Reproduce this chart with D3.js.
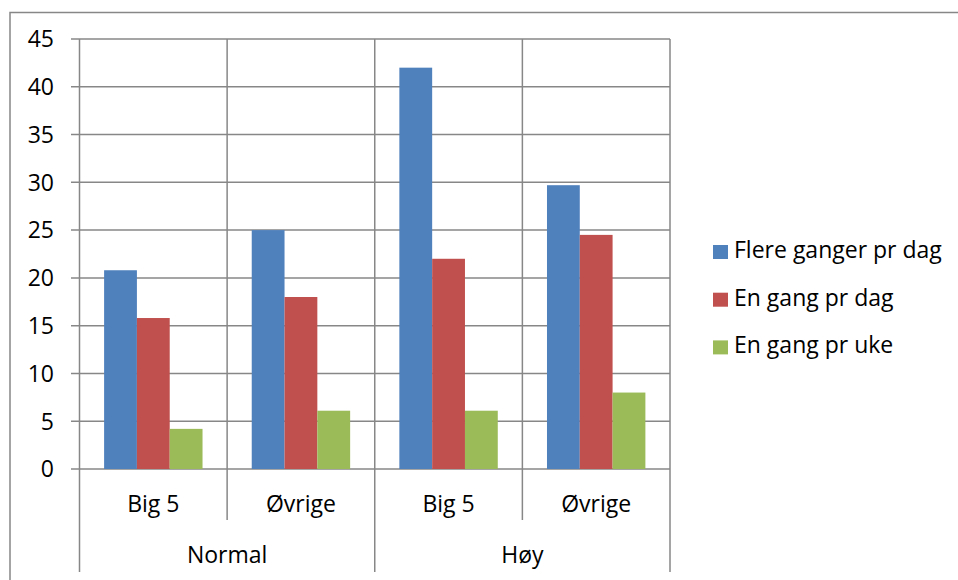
<!DOCTYPE html>
<html><head><meta charset="utf-8">
<script src="https://cdn.jsdelivr.net/npm/d3@7/dist/d3.min.js"></script>
<style>body{margin:0;background:#fff}svg{display:block}text{font-family:"Open Sans",sans-serif;fill:#000}</style>
</head><body><svg id="c" width="958" height="580"></svg>
<script>
const groups = ["Normal", "Høy"];
const subs = ["Big 5", "Øvrige"];
const categories = ["Normal|Big 5", "Normal|Øvrige", "Høy|Big 5", "Høy|Øvrige"];
const seriesNames = ["Flere ganger pr dag", "En gang pr dag", "En gang pr uke"];
const flereGangerPrDag = [20.8, 25.0, 42.0, 29.7];
const enGangPrDag = [15.8, 18.0, 22.0, 24.5];
const enGangPrUke = [4.2, 6.1, 6.1, 8.0];
const yTicks = [0, 5, 10, 15, 20, 25, 30, 35, 40, 45];
const colors = ["#4F81BD", "#C0504D", "#9BBB59"];

const seriesValues = [flereGangerPrDag, enGangPrDag, enGangPrUke];
const svg = d3.select("#c");
const grid = "#878787";
const L = 79.5, R = 670, T = 39, B = 469;
const fs = 23;

// outer frame
svg.append("path").attr("d", `M10,600 L10,12.5 L970,12.5`).attr("fill", "none").attr("stroke", grid).attr("stroke-width", 1.5);

const y = d3.scaleLinear().domain([0, 45]).range([B, T]);
const x0 = d3.scaleBand().domain(categories).range([L, R]).padding(0);
const x1 = d3.scaleBand().domain(seriesNames).range([0, x0.bandwidth()]).paddingInner(0).paddingOuter(0.75);
const xg = d3.scaleBand().domain(groups).range([L, R]).padding(0);

// horizontal gridlines
svg.append("g").selectAll("line").data(yTicks).join("line")
  .attr("x1", 71).attr("x2", R).attr("y1", d => y(d)).attr("y2", d => y(d))
  .attr("stroke", grid).attr("stroke-width", 1.5);

// bars
categories.forEach((c, i) => {
  svg.append("g").selectAll("rect").data(seriesNames).join("rect")
    .attr("x", s => x0(c) + x1(s))
    .attr("width", x1.bandwidth())
    .attr("y", (s, k) => y(seriesValues[k][i]))
    .attr("height", (s, k) => y(0) - y(seriesValues[k][i]))
    .attr("fill", (s, k) => colors[k]);
});

// vertical lines: category boundaries
const bounds = categories.map(c => x0(c)).concat([R]);
svg.append("g").selectAll("line").data(bounds).join("line")
  .attr("x1", d => d).attr("x2", d => d)
  .attr("y1", T).attr("y2", (d, i) => (i % 2 === 0) ? 572 : 520)
  .attr("stroke", grid).attr("stroke-width", 1.5);

// y axis labels
svg.append("g").selectAll("text").data(yTicks).join("text")
  .attr("x", 54).attr("y", d => y(d)).attr("dy", "0.36em")
  .attr("text-anchor", "end").attr("font-size", fs).text(d => d);

// sub-category labels
svg.append("g").selectAll("text").data(categories).join("text")
  .attr("x", c => x0(c) + x0.bandwidth() / 2).attr("y", 512)
  .attr("text-anchor", "middle").attr("font-size", fs).text(c => c.split("|")[1]);

// group labels
svg.append("g").selectAll("text").data(groups).join("text")
  .attr("x", g => xg(g) + xg.bandwidth() / 2).attr("y", 563)
  .attr("text-anchor", "middle").attr("font-size", fs).text(g => g);

// legend
const lg = svg.append("g").selectAll("g").data(seriesNames).join("g")
  .attr("transform", (d, i) => `translate(713,${245 + i * 47.7})`);
lg.append("rect").attr("width", 15).attr("height", 14).attr("fill", (d, i) => colors[i]);
lg.append("text").attr("x", 21).attr("y", 13).attr("font-size", fs).text(d => d);
</script></body></html>
